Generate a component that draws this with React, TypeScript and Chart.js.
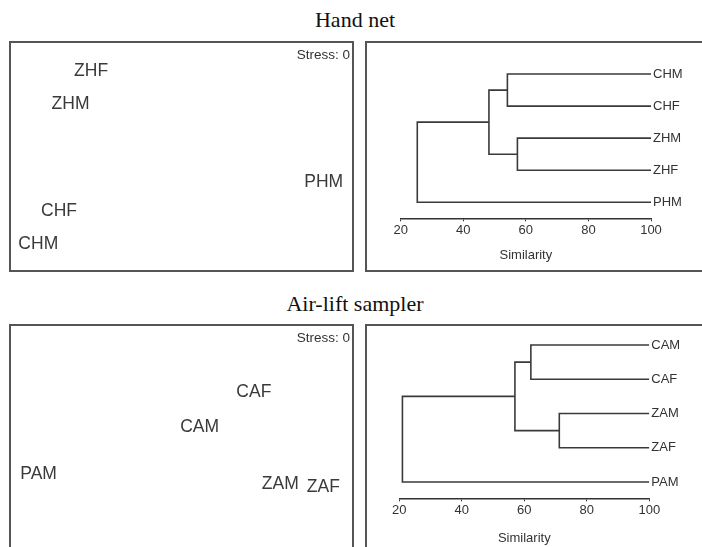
import React, { useEffect, useRef } from 'react';
import { Chart, registerables } from 'chart.js';

Chart.register(...registerables);
Chart.defaults.font.family = "'Liberation Sans', Arial, sans-serif";

// ---------- data ----------
const HAND_TITLE = 'Hand net';
const AIR_TITLE = 'Air-lift sampler';
const STRESS_TEXT = 'Stress: 0';
const AXIS_TITLE = 'Similarity';

// MDS ordinations (arbitrary units, -1..1)
const HAND_MDS_LABELS = ['ZHF', 'ZHM', 'PHM', 'CHF', 'CHM'];
const HAND_MDS_X = [-0.527, -0.647, 0.829, -0.714, -0.835];
const HAND_MDS_Y = [0.741, 0.456, -0.22, -0.479, -0.762];

const AIR_MDS_LABELS = ['CAF', 'CAM', 'PAM', 'ZAM', 'ZAF'];
const AIR_MDS_X = [0.422, 0.106, -0.833, 0.576, 0.827];
const AIR_MDS_Y = [0.41, 0.109, -0.299, -0.386, -0.419];

// Dendrograms: leaves top->bottom; merges [nodeA, nodeB, similarity]
// nodes 0..4 are leaves, 5.. are clusters in merge order
const HAND_LEAVES = ['CHM', 'CHF', 'ZHM', 'ZHF', 'PHM'];
const HAND_MERGES: [number, number, number][] = [
  [0, 1, 54.1],
  [2, 3, 57.3],
  [5, 6, 48.2],
  [7, 4, 25.3],
];
const AIR_LEAVES = ['CAM', 'CAF', 'ZAM', 'ZAF', 'PAM'];
const AIR_MERGES: [number, number, number][] = [
  [0, 1, 62.1],
  [2, 3, 71.2],
  [5, 6, 57.0],
  [7, 4, 21.0],
];
const SIM_TICKS = [20, 40, 60, 80, 100];
const SIM_MIN = 20;
const SIM_MAX = 100;

const INK = '#333';

function buildDendro(leaves: string[], merges: [number, number, number][]) {
  const pos = leaves.map((_, i) => ({ x: SIM_MAX, y: i }));
  const segs: { x: number; y: number }[][] = [];
  merges.forEach(([a, b, s]) => {
    const A = pos[a];
    const B = pos[b];
    segs.push([
      { x: A.x, y: A.y },
      { x: s, y: A.y },
      { x: s, y: B.y },
      { x: B.x, y: B.y },
    ]);
    pos.push({ x: s, y: (A.y + B.y) / 2 });
  });
  return segs;
}

type Box = { left: number; top: number; width: number; height: number };

function MdsChart({ labels, xs, ys, box }: { labels: string[]; xs: number[]; ys: number[]; box: Box }) {
  const ref = useRef<HTMLCanvasElement>(null);
  useEffect(() => {
    if (!ref.current) return;
    const labelPlugin = {
      id: 'mdsLabels',
      afterDatasetsDraw(chart: any) {
        const ctx = chart.ctx;
        const meta = chart.getDatasetMeta(0);
        ctx.save();
        ctx.fillStyle = '#3a3a3a';
        ctx.font = "17.5px 'Liberation Sans', Arial, sans-serif";
        ctx.textAlign = 'center';
        ctx.textBaseline = 'middle';
        meta.data.forEach((el: any, i: number) => {
          ctx.fillText(labels[i], el.x, el.y);
        });
        ctx.font = "13.5px 'Liberation Sans', Arial, sans-serif";
        ctx.fillStyle = INK;
        ctx.textAlign = 'right';
        ctx.fillText(STRESS_TEXT, chart.chartArea.right - 3, chart.chartArea.top + 13);
        ctx.restore();
      },
    };
    const chart = new Chart(ref.current, {
      type: 'scatter',
      data: {
        datasets: [
          {
            data: xs.map((x, i) => ({ x, y: ys[i] })),
            pointRadius: 0,
            pointHoverRadius: 0,
          },
        ],
      },
      options: {
        animation: false,
        responsive: false,
        maintainAspectRatio: false,
        layout: { padding: 0 },
        plugins: { legend: { display: false }, tooltip: { enabled: false } },
        scales: {
          x: { type: 'linear', min: -1, max: 1, display: false },
          y: { type: 'linear', min: -1, max: 1, display: false },
        },
      },
      plugins: [labelPlugin],
    } as any);
    return () => chart.destroy();
  }, []);
  return (
    <canvas
      ref={ref}
      width={box.width}
      height={box.height}
      style={{ position: 'absolute', left: box.left, top: box.top, width: box.width, height: box.height }}
    />
  );
}

function DendroChart({
  leaves,
  merges,
  box,
  yMin,
  yMax,
  padLeft,
  xAxisH,
  yAxisW,
}: {
  leaves: string[];
  merges: [number, number, number][];
  box: Box;
  yMin: number;
  yMax: number;
  padLeft: number;
  xAxisH: number;
  yAxisW: number;
}) {
  const ref = useRef<HTMLCanvasElement>(null);
  useEffect(() => {
    if (!ref.current) return;
    const segs = buildDendro(leaves, merges);
    const chart = new Chart(ref.current, {
      type: 'scatter',
      data: {
        datasets: segs.map((d) => ({
          data: d,
          showLine: true,
          borderColor: '#3a3a3a',
          borderWidth: 1.6,
          pointRadius: 0,
          pointHoverRadius: 0,
          fill: false,
          tension: 0,
        })),
      },
      options: {
        animation: false,
        responsive: false,
        maintainAspectRatio: false,
        layout: { padding: { left: padLeft, top: 0, right: 0, bottom: 0 } },
        plugins: { legend: { display: false }, tooltip: { enabled: false } },
        scales: {
          x: {
            type: 'linear',
            position: 'bottom',
            min: SIM_MIN,
            max: SIM_MAX,
            afterBuildTicks: (s: any) => {
              s.ticks = SIM_TICKS.map((v) => ({ value: v }));
            },
            ticks: { font: { size: 13 }, color: INK, padding: 1, maxRotation: 0, autoSkip: false },
            grid: { display: true, drawOnChartArea: false, drawTicks: true, tickLength: 3, color: INK, lineWidth: 1 },
            border: { display: true, color: INK, width: 1.5 },
            title: { display: true, text: AXIS_TITLE, font: { size: 13 }, color: INK, padding: { top: 0, bottom: 8 } },
            afterFit: (s: any) => {
              s.height = xAxisH;
              s.paddingLeft = 0;
              s.paddingRight = 0;
            },
          },
          y: {
            type: 'linear',
            position: 'right',
            reverse: true,
            min: yMin,
            max: yMax,
            afterBuildTicks: (s: any) => {
              s.ticks = leaves.map((_, i) => ({ value: i }));
            },
            grid: { display: false, drawTicks: false },
            border: { display: false },
            ticks: {
              autoSkip: false,
              padding: 2,
              font: { size: 13 },
              color: INK,
              callback: (v: any) => leaves[v] ?? '',
            },
            afterFit: (s: any) => {
              s.width = yAxisW;
              s.paddingTop = 0;
              s.paddingBottom = 0;
            },
          },
        },
      },
    } as any);
    return () => chart.destroy();
  }, []);
  return (
    <canvas
      ref={ref}
      width={box.width}
      height={box.height}
      style={{ position: 'absolute', left: box.left, top: box.top, width: box.width, height: box.height }}
    />
  );
}

function Frame({ left, top, width, height }: Box) {
  return (
    <div
      style={{
        position: 'absolute',
        left,
        top,
        width,
        height,
        border: '2px solid #555',
        boxSizing: 'border-box',
      }}
    />
  );
}

function Title({ text, top }: { text: string; top: number }) {
  return (
    <div
      style={{
        position: 'absolute',
        left: 0,
        top,
        width: 710,
        textAlign: 'center',
        fontFamily: "'Liberation Serif', 'Times New Roman', serif",
        fontSize: 22,
        lineHeight: '22px',
        color: '#111',
        whiteSpace: 'nowrap',
      }}
    >
      {text}
    </div>
  );
}

export default function App() {
  return (
    <div
      style={{
        position: 'fixed',
        left: 0,
        top: 0,
        width: 702,
        height: 547,
        overflow: 'hidden',
        background: '#fff',
      }}
    >
      <Title text={HAND_TITLE} top={9} />
      <Title text={AIR_TITLE} top={293} />

      <Frame left={9} top={41} width={345} height={231} />
      <Frame left={365} top={41} width={345} height={231} />
      <Frame left={9} top={324} width={345} height={240} />
      <Frame left={365} top={324} width={345} height={240} />

      <MdsChart labels={HAND_MDS_LABELS} xs={HAND_MDS_X} ys={HAND_MDS_Y} box={{ left: 10, top: 42, width: 343, height: 229 }} />
      <MdsChart labels={AIR_MDS_LABELS} xs={AIR_MDS_X} ys={AIR_MDS_Y} box={{ left: 10, top: 325, width: 343, height: 229 }} />

      <DendroChart
        leaves={HAND_LEAVES}
        merges={HAND_MERGES}
        box={{ left: 366, top: 42, width: 336, height: 229 }}
        yMin={-1}
        yMax={4.5}
        padLeft={34.7}
        xAxisH={52.7}
        yAxisW={51}
      />
      <DendroChart
        leaves={AIR_LEAVES}
        merges={AIR_MERGES}
        box={{ left: 366, top: 325, width: 336, height: 229 }}
        yMin={-0.584}
        yMax={4.476}
        padLeft={33.3}
        xAxisH={55.7}
        yAxisW={52.7}
      />
    </div>
  );
}
